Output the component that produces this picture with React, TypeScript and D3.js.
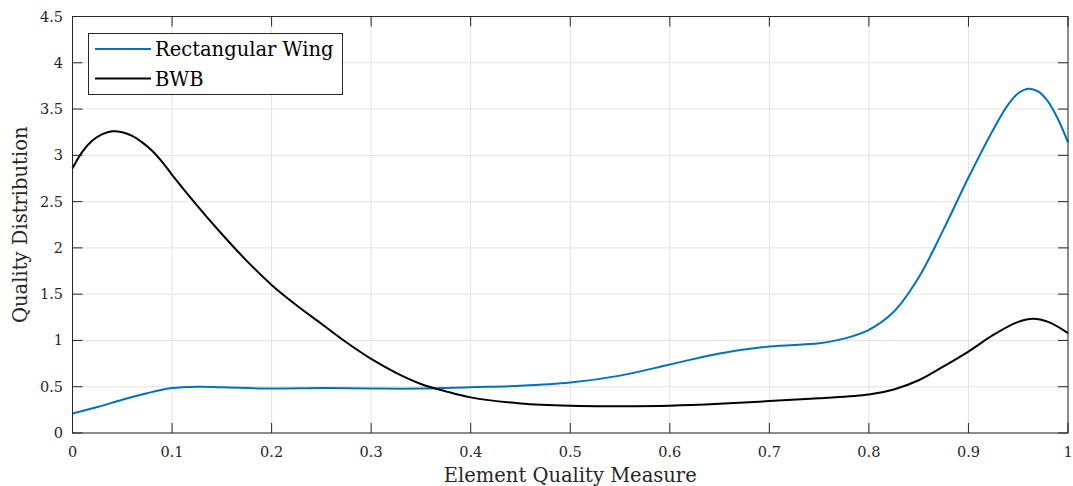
import React from "react";
import * as d3 from "d3";

const xTicks = [0, 0.1, 0.2, 0.3, 0.4, 0.5, 0.6, 0.7, 0.8, 0.9, 1];
const yTicks = [0, 0.5, 1, 1.5, 2, 2.5, 3, 3.5, 4, 4.5];

const rectX = [0, 0.025, 0.05, 0.075, 0.1, 0.125, 0.15, 0.2, 0.25, 0.3, 0.35, 0.4, 0.45, 0.5, 0.55, 0.6, 0.65, 0.7, 0.75, 0.775, 0.8, 0.825, 0.85, 0.875, 0.9, 0.925, 0.94, 0.95, 0.96, 0.97, 0.98, 0.99, 1];
const rectY = [0.21, 0.28, 0.36, 0.43, 0.485, 0.5, 0.495, 0.48, 0.485, 0.48, 0.48, 0.495, 0.51, 0.545, 0.62, 0.74, 0.86, 0.935, 0.97, 1.02, 1.115, 1.31, 1.68, 2.2, 2.76, 3.28, 3.55, 3.67, 3.72, 3.69, 3.58, 3.39, 3.14];

const bwbX = [0, 0.01, 0.02, 0.03, 0.04, 0.05, 0.06, 0.07, 0.08, 0.09, 0.1, 0.125, 0.15, 0.175, 0.2, 0.225, 0.25, 0.275, 0.3, 0.325, 0.35, 0.375, 0.4, 0.45, 0.5, 0.55, 0.6, 0.65, 0.7, 0.75, 0.8, 0.825, 0.85, 0.875, 0.9, 0.925, 0.95, 0.965, 0.98, 1];
const bwbY = [2.86, 3.04, 3.16, 3.23, 3.26, 3.25, 3.21, 3.14, 3.05, 2.93, 2.79, 2.46, 2.15, 1.86, 1.6, 1.38, 1.18, 0.98, 0.8, 0.65, 0.53, 0.45, 0.385, 0.32, 0.295, 0.29, 0.295, 0.315, 0.345, 0.375, 0.415, 0.47, 0.57, 0.72, 0.88, 1.06, 1.2, 1.234, 1.2, 1.08];

const seriesNames = ["Rectangular Wing", "BWB"];
const seriesColors = ["#0072BD", "#000000"];

const W = 1073;
const H = 486;
const FONT = "'DejaVu Serif', serif";

export default function App() {
  const x = d3.scaleLinear().domain([0, 1]).range([72.5, 1068]);
  const y = d3.scaleLinear().domain([0, 4.5]).range([433, 16.5]);
  const line = d3
    .line<[number, number]>()
    .x((d) => x(d[0]))
    .y((d) => y(d[1]))
    .curve(d3.curveCatmullRom.alpha(0.5));
  const rect: [number, number][] = rectX.map((v, i) => [v, rectY[i]]);
  const bwb: [number, number][] = bwbX.map((v, i) => [v, bwbY[i]]);
  const [x0, x1] = x.range();
  const [y0, y1] = y.range();
  const fmt = (v: number) => String(v);
  const axisColor = "#262626";
  const tl = 10;

  return (
    <svg width={W} height={H} style={{ position: "absolute", left: 0, top: 0 }}>
      <rect x={0} y={0} width={W} height={H} fill="#fff" />
      {xTicks.map((t) => (
        <line key={"gx" + t} x1={x(t)} x2={x(t)} y1={y0} y2={y1} stroke="#e3e3e3" strokeWidth={1} />
      ))}
      {yTicks.map((t) => (
        <line key={"gy" + t} x1={x0} x2={x1} y1={y(t)} y2={y(t)} stroke="#e3e3e3" strokeWidth={1} />
      ))}
      <path d={line(rect) || ""} fill="none" stroke={seriesColors[0]} strokeWidth={2} />
      <path d={line(bwb) || ""} fill="none" stroke={seriesColors[1]} strokeWidth={2} />
      <rect x={x0} y={y1} width={x1 - x0} height={y0 - y1} fill="none" stroke={axisColor} strokeWidth={1} />
      {xTicks.map((t) => (
        <g key={"tx" + t}>
          <line x1={x(t)} x2={x(t)} y1={y0} y2={y0 - tl} stroke={axisColor} />
          <line x1={x(t)} x2={x(t)} y1={y1} y2={y1 + tl} stroke={axisColor} />
          <text x={x(t)} y={457} textAnchor="middle" fontFamily={FONT} fontSize={14.5} fill={axisColor}>
            {fmt(t)}
          </text>
        </g>
      ))}
      {yTicks.map((t) => (
        <g key={"ty" + t}>
          <line x1={x0} x2={x0 + tl} y1={y(t)} y2={y(t)} stroke={axisColor} />
          <line x1={x1} x2={x1 - tl} y1={y(t)} y2={y(t)} stroke={axisColor} />
          <text x={63} y={y(t) + 5} textAnchor="end" fontFamily={FONT} fontSize={14.5} fill={axisColor}>
            {fmt(t)}
          </text>
        </g>
      ))}
      <text x={(x0 + x1) / 2} y={482} textAnchor="middle" fontFamily={FONT} fontSize={19.5} fill={axisColor}>
        Element Quality Measure
      </text>
      <text
        transform={`translate(27, ${(y0 + y1) / 2}) rotate(-90)`}
        textAnchor="middle"
        fontFamily={FONT}
        fontSize={19.5}
        fill={axisColor}
      >
        Quality Distribution
      </text>
      <rect x={88.5} y={33.5} width={254} height={61} fill="#fff" stroke={axisColor} strokeWidth={1} />
      {seriesNames.map((n, i) => (
        <g key={n}>
          <line x1={95} x2={151} y1={49 + i * 29.5} y2={49 + i * 29.5} stroke={seriesColors[i]} strokeWidth={2} />
          <text x={155} y={56 + i * 29.5} fontFamily={FONT} fontSize={19.5} fill="#000">
            {n}
          </text>
        </g>
      ))}
    </svg>
  );
}
